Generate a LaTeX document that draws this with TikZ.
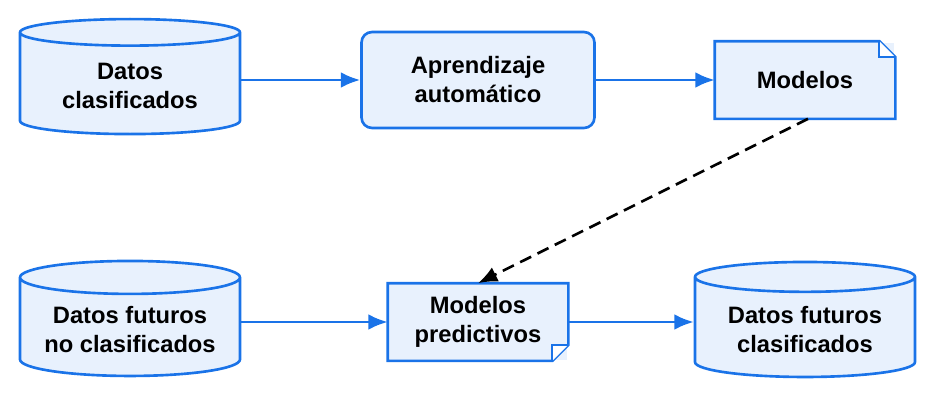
\documentclass[tikz,border=0pt]{standalone}
\usepackage{fontspec}
\setmainfont{Liberation Sans}
\usetikzlibrary{shapes.geometric,positioning,calc,arrows.meta}
\definecolor{azul}{HTML}{1A73E8}
\definecolor{fondo}{HTML}{E8F1FD}

\begin{document}
\begin{tikzpicture}[
    base/.style={draw=azul, fill=fondo, line width=1.5pt, align=center,
        font=\fontsize{13.5}{16.5}\selectfont\bfseries},
    datos/.style={base, cylinder, shape border rotate=90, aspect=0.18,
        minimum width=4.4cm, minimum height=2.3cm},
    proceso/.style={base, rounded corners=6pt, minimum width=4.66cm, minimum height=1.92cm},
    doc/.style={base, draw=none, minimum width=3.56cm, minimum height=1.5cm},
    flecha/.style={draw=azul, line width=1.5pt, -{Latex[length=11pt,width=9pt]}}
]
\useasboundingbox (0,0) rectangle (18.7,8.04);

% -------- Fila superior --------
\node[datos] (dc) at (2.6,6.32) {Datos\\clasificados};
\node[proceso] (ap) at (9.56,6.44) {Aprendizaje\\automático};
\node[doc] (mod) at (16.1,6.44) {Modelos};
\draw[azul, line width=1.5pt] (mod.south west) -- (mod.north west) -- ($(mod.north east)+(-0.32,0)$)
    -- ($(mod.north east)+(0,-0.32)$) -- (mod.south east) -- cycle;
\draw[azul, line width=1pt, fill=white] ($(mod.north east)+(-0.32,0)$) -- ($(mod.north east)+(-0.32,-0.32)$)
    -- ($(mod.north east)+(0,-0.32)$);

% -------- Fila inferior --------
\node[datos] (dn) at (2.6,1.44) {Datos futuros\\no clasificados};
\node[doc] (mp) at (9.56,1.6) {Modelos\\predictivos};
\draw[azul, line width=1.5pt] (mp.north west) -- (mp.north east) -- ($(mp.south east)+(0,0.32)$)
    -- ($(mp.south east)+(-0.32,0)$) -- (mp.south west) -- cycle;
\draw[azul, line width=1pt, fill=white] ($(mp.south east)+(0,0.32)$) -- ($(mp.south east)+(-0.32,0.32)$)
    -- ($(mp.south east)+(-0.32,0)$);
\node[datos] (df) at (16.1,1.44) {Datos futuros\\clasificados};

% -------- Flechas --------
\draw[flecha] (dc.east |- ap.east) -- (ap);
\draw[flecha] (ap) -- (mod);
\draw[flecha] (dn.east |- mp.east) -- (mp);
\draw[flecha] (mp) -- (df.west |- mp.east);
\draw[line width=1.5pt, dash pattern=on 7pt off 4pt, -{Latex[length=11pt,width=9pt]}]
    ($(mod.south)+(0.06,0)$) -- (mp.north);

\end{tikzpicture}
\end{document}
